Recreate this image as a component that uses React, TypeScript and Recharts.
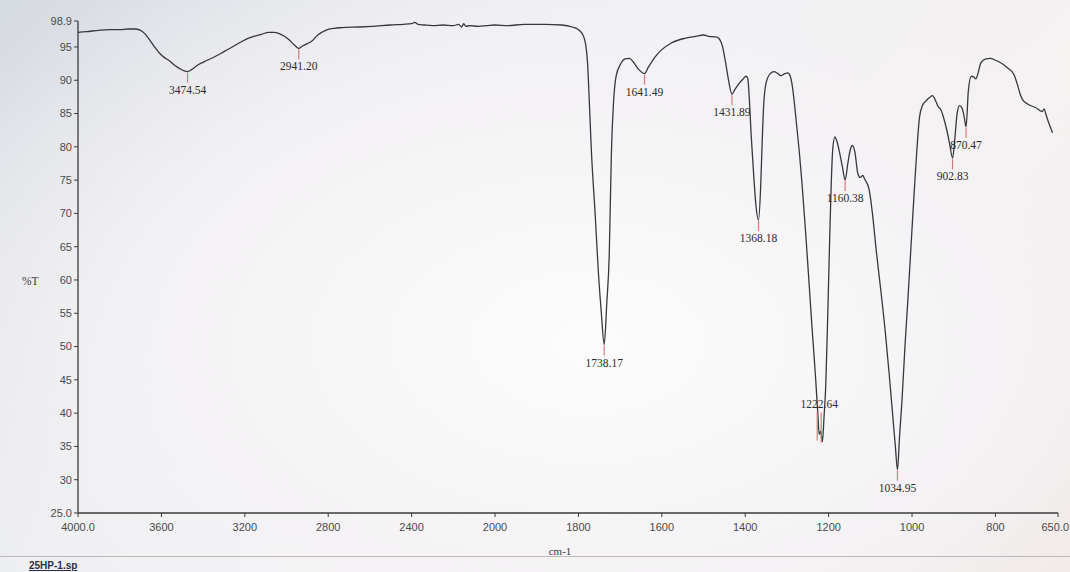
import { ComposedChart, Label, Line, Scatter, XAxis, YAxis } from "recharts";

// spectrum: wavenumber (cm-1) and %T
const wavenumbers = [
    4000, 3960, 3900, 3850, 3800, 3760, 3730, 3700, 3680, 3660, 3635, 3610, 3585, 3560, 3535, 3510, 3490,
    3474.54, 3455, 3420, 3380, 3340, 3300, 3260, 3210, 3165, 3120, 3085, 3060, 3035, 3010, 2985, 2962,
    2941.2, 2925, 2900, 2878, 2850, 2812, 2770, 2735, 2650, 2590, 2500, 2440, 2400, 2385, 2370, 2340,
    2300, 2250, 2200, 2175, 2160, 2150, 2140, 2120, 2080, 2040, 2000, 1970, 1930, 1880, 1840, 1815,
    1800, 1790, 1783, 1778, 1774, 1769, 1760, 1752, 1745, 1738.17, 1732, 1726, 1721, 1716, 1710, 1700,
    1688, 1678, 1668, 1655, 1641.49, 1632, 1615, 1600, 1577, 1545, 1519, 1500, 1488, 1470, 1462, 1455,
    1448, 1440, 1431.89, 1425, 1415, 1405, 1398, 1394, 1390, 1386, 1380, 1374, 1368.18, 1363, 1360, 1356,
    1350, 1340, 1331, 1322, 1314, 1305, 1298, 1292, 1288, 1282, 1278, 1270, 1264, 1255, 1247, 1240, 1232,
    1226, 1222.64, 1219, 1215, 1211, 1207, 1202, 1198, 1194, 1190, 1185, 1180, 1174, 1167, 1160.38, 1154,
    1148, 1143, 1137, 1130, 1124, 1118, 1114, 1103, 1095, 1086, 1075, 1064, 1055, 1046, 1040, 1034.95,
    1030, 1024, 1017, 1010, 1003, 996, 989, 982, 975, 965, 958, 951, 944, 937, 931, 924, 917, 910,
    902.83, 897, 892, 886, 880, 875, 870.47, 865, 858, 852, 847, 842, 835, 823, 812, 800, 790, 782, 770,
    756, 748, 740, 735, 722, 704, 688, 683, 679, 675, 668, 663,
];

const transmittance = [
    97.2, 97.3, 97.5, 97.6, 97.6, 97.7, 97.7, 97.5, 97.0, 96.2, 95.1, 94.1, 93.4, 92.9, 92.2, 91.7, 91.4,
    91.3, 91.6, 92.4, 93.0, 93.6, 94.3, 95.0, 95.9, 96.5, 96.9, 97.2, 97.2, 97.0, 96.6, 96.0, 95.3,
    94.8, 95.1, 95.5, 95.9, 96.8, 97.5, 97.8, 97.9, 98.0, 98.1, 98.3, 98.4, 98.5, 98.7, 98.4, 98.3,
    98.2, 98.3, 98.2, 98.4, 98.0, 98.5, 98.1, 98.2, 98.1, 98.2, 98.3, 98.2, 98.4, 98.4, 98.3, 98.0,
    97.6, 96.9, 95.5, 92.5, 87.0, 79.5, 70.0, 61.0, 55.0, 50.3, 56.5, 64.0, 79.0, 86.5, 90.5, 92.3,
    93.2, 93.3, 92.7, 91.6, 91.0, 92.0, 93.6, 94.6, 95.6, 96.3, 96.6, 96.8, 96.6, 96.5, 96.2, 95.2,
    93.0, 90.0, 87.9, 88.6, 89.5, 90.2, 90.6, 90.3, 87.0, 82.0, 76.0, 71.0, 69.0, 74.0, 79.6, 86.0,
    89.6, 91.0, 91.3, 91.0, 90.7, 91.0, 91.1, 90.6, 89.5, 86.5, 84.0, 79.0, 74.6, 67.0, 59.6, 53.0, 46.0,
    40.0, 36.8, 37.3, 35.7, 39.5, 44.0, 55.0, 65.0, 74.0, 79.8, 81.5, 80.8, 79.2, 77.0, 75.0, 77.5,
    79.6, 80.2, 79.2, 76.0, 75.4, 75.7, 75.2, 73.6, 70.0, 64.5, 58.5, 52.1, 46.0, 39.4, 35.0, 31.5,
    36.5, 42.0, 50.0, 57.0, 64.5, 72.0, 79.0, 84.5, 86.2, 87.0, 87.4, 87.7, 87.0, 86.0, 85.6, 84.3, 82.6, 80.5,
    78.3, 81.5, 85.0, 86.2, 85.8, 84.5, 83.0, 88.4, 90.6, 90.5, 90.2, 91.0, 92.6, 93.2, 93.3, 93.0, 92.7, 92.4, 91.8,
    90.9, 89.5, 87.8, 87.1, 86.4, 85.9, 85.3, 85.7, 84.9, 84.1, 82.9, 82.1,
];

const peakWavenumbers = [3474.54, 2941.2, 1738.17, 1641.49, 1431.89, 1368.18, 1222.64, 1160.38, 1034.95, 902.83, 870.47];
const peakTransmittance = [91.3, 94.8, 50.3, 91.0, 87.9, 69.0, 36.8, 75.0, 31.5, 78.3, 83.0];

const xTickWavenumbers = [4000, 3600, 3200, 2800, 2400, 2000, 1800, 1600, 1400, 1200, 1000, 800, 650];
const yTicks = [25, 30, 35, 40, 45, 50, 55, 60, 65, 70, 75, 80, 85, 90, 95, 98.9];

// the instrument doubles the scale below 2000 cm-1
const toAxis = (wn: number) => (wn >= 2000 ? (4000 - wn) / 2 : 1000 + (2000 - wn));
const fromAxis = (u: number) => (u <= 1000 ? 4000 - u * 2 : 2000 - (u - 1000));

const spectrum = wavenumbers.map((wn, i) => ({ u: toAxis(wn), t: transmittance[i] }));
const peaks = peakWavenumbers.map((wn, i) => ({
    u: toAxis(wn),
    t: peakTransmittance[i],
    label: wn.toFixed(2),
}));

const TICK_RED = "#d8787c";
const PEAK_FONT = "'Liberation Serif', 'Times New Roman', serif";
const AXIS_FONT = "'Liberation Sans', Arial, sans-serif";

function PeakMark(props: any) {
    const { cx, cy, payload } = props;
    if (typeof cx !== "number" || typeof cy !== "number") return <g />;

    // the doublet at 1222 has its label sitting above the minimum
    if (payload.label === "1222.64") {
        return (
            <g>
                <line x1={cx - 2} y1={cy - 22} x2={cx - 2} y2={cy + 6} stroke={TICK_RED} strokeWidth={1.2} />
                <line x1={cx + 2} y1={cy - 22} x2={cx + 2} y2={cy + 8} stroke={TICK_RED} strokeWidth={1.2} />
                <text x={cx} y={cy - 26} textAnchor="middle" fontSize={11.5} fontFamily={PEAK_FONT} fill="#2b2b2b">
                    {payload.label}
                </text>
            </g>
        );
    }

    return (
        <g>
            <line x1={cx} y1={cy + 1} x2={cx} y2={cy + 11} stroke={TICK_RED} strokeWidth={1.2} />
            <text x={cx} y={cy + 22} textAnchor="middle" fontSize={11.5} fontFamily={PEAK_FONT} fill="#2b2b2b">
                {payload.label}
            </text>
        </g>
    );
}

function WavenumberTick(props: any) {
    const { x, y, payload } = props;
    const wn = Math.round(fromAxis(payload.value));
    const text = wn === 4000 || wn === 650 ? wn.toFixed(1) : String(wn);
    // last label is pushed inside the page edge
    const isLast = wn === 650;
    return (
        <text
            x={isLast ? x + 11 : x}
            y={y + 12}
            textAnchor={isLast ? "end" : "middle"}
            fill="#4a4a4a"
            fontSize={11}
            fontFamily={AXIS_FONT}
        >
            {text}
        </text>
    );
}

export default function App() {
    return (
        <div
            style={{
                position: "absolute",
                left: 0,
                top: 0,
                width: 1070,
                height: 572,
                overflow: "hidden",
                background:
                    "radial-gradient(ellipse 70% 80% at 55% 60%, #fdfcfd 0%, #f4f2f4 55%, rgba(244,242,244,0) 100%), linear-gradient(135deg, #d6dae1 0%, #eceef2 35%, #f6f2f1 70%, #efe4df 100%)",
            }}
        >
            <ComposedChart
                width={1070}
                height={572}
                data={spectrum}
                margin={{ top: 21, right: 12, bottom: 15, left: 0 }}
            >
                <XAxis
                    dataKey="u"
                    type="number"
                    domain={[0, 2350]}
                    ticks={xTickWavenumbers.map(toAxis)}
                    height={44}
                    tickSize={4}
                    axisLine={{ stroke: "#3b3b3b", strokeWidth: 1.3 }}
                    tickLine={{ stroke: "#3b3b3b" }}
                    tick={<WavenumberTick />}
                    interval={0}
                >
                    <Label
                        value="cm-1"
                        position="insideBottom"
                        offset={2}
                        dx={-8}
                        fill="#3a3a3a"
                        fontSize={11}
                        fontFamily={PEAK_FONT}
                    />
                </XAxis>

                <YAxis
                    dataKey="t"
                    type="number"
                    domain={[25, 98.9]}
                    ticks={yTicks}
                    interval={0}
                    width={78}
                    tickSize={4}
                    tickFormatter={(v: number) => (v === 25 ? "25.0" : v === 98.9 ? "98.9" : String(v))}
                    axisLine={{ stroke: "#3b3b3b", strokeWidth: 1.3 }}
                    tickLine={{ stroke: "#3b3b3b" }}
                    tick={{ fill: "#4a4a4a", fontSize: 11, fontFamily: AXIS_FONT }}
                >
                    <Label
                        value="%T"
                        position="insideLeft"
                        offset={22}
                        dy={14}
                        fill="#3a3a3a"
                        fontSize={11.5}
                        fontFamily={PEAK_FONT}
                    />
                </YAxis>

                <Line
                    dataKey="t"
                    type="monotone"
                    stroke="#38383c"
                    strokeWidth={1.3}
                    dot={false}
                    activeDot={false}
                    isAnimationActive={false}
                />

                <Scatter data={peaks} dataKey="t" shape={PeakMark} isAnimationActive={false} />
            </ComposedChart>

            <div
                style={{
                    position: "absolute",
                    left: 0,
                    top: 556,
                    width: 1070,
                    height: 1,
                    background: "#bdb8b9",
                }}
            />
            <div
                style={{
                    position: "absolute",
                    left: 29,
                    top: 560,
                    fontFamily: AXIS_FONT,
                    fontSize: 10,
                    fontWeight: 700,
                    color: "#2c3048",
                    textDecoration: "underline",
                }}
            >
                25HP-1.sp
            </div>
        </div>
    );
}
